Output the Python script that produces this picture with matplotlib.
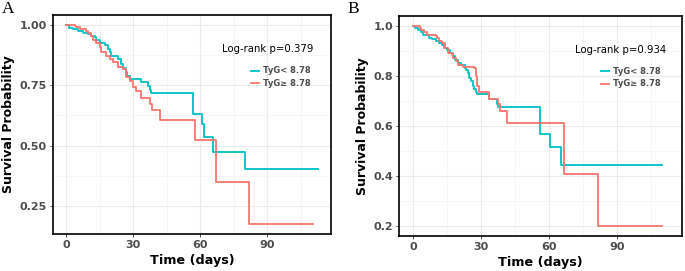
import matplotlib
matplotlib.use("Agg")
import matplotlib.pyplot as plt
from matplotlib.ticker import MultipleLocator

# ---------------- data ----------------
a_low_t = [0, 1.2, 3, 5.2, 7.5, 9.7, 11.2, 12.7, 13.4, 14.9, 17.2, 18.6, 19.4, 20.1, 23.1, 24.6, 25.4,
           26.5, 27.3, 28.3, 33.6, 36.5, 37.3, 38, 56.7, 60.8, 61.7, 65.6, 79.8, 112.9]
a_low_s = [1.0, 0.989, 0.982, 0.975, 0.968, 0.962, 0.955, 0.948, 0.937, 0.927, 0.916, 0.90, 0.886, 0.872,
           0.859, 0.838, 0.821, 0.804, 0.79, 0.776, 0.765, 0.749, 0.731, 0.717, 0.632, 0.588, 0.536, 0.474,
           0.405, 0.405]
a_high_t = [0, 3.7, 4.5, 6, 8.9, 9.7, 11.2, 11.9, 13.4, 14.9, 15.7, 17.9, 19.4, 20.9, 23.1, 25.4, 26.8,
            28.3, 29.8, 31.3, 33.5, 37.6, 38.5, 41.8, 57.4, 66.8, 81.7, 110.6]
a_high_s = [1.0, 0.996, 0.992, 0.982, 0.975, 0.968, 0.955, 0.937, 0.927, 0.909, 0.886, 0.872, 0.859, 0.845,
            0.824, 0.817, 0.783, 0.769, 0.742, 0.728, 0.698, 0.673, 0.646, 0.608, 0.522, 0.349, 0.174, 0.174]

b_low_t = [0, 1.1, 2.1, 3.6, 4.3, 7.1, 8.5, 10, 11.4, 12.8, 13.5, 14.9, 16.4, 17.8, 18.5, 19.9, 21.3, 22.8,
           23.5, 24.2, 24.9, 25.6, 26.3, 27, 27.7, 28.4, 33.4, 37, 37.7, 56.2, 60.3, 65.4, 109.8]
b_low_s = [1.0, 0.990, 0.983, 0.974, 0.963, 0.953, 0.948, 0.940, 0.930, 0.924, 0.913, 0.904, 0.891, 0.878,
           0.865, 0.852, 0.843, 0.832, 0.822, 0.812, 0.793, 0.780, 0.760, 0.747, 0.734, 0.727, 0.707, 0.688,
           0.675, 0.570, 0.517, 0.444, 0.444]
b_high_t = [0, 3.1, 3.6, 5, 6.4, 10, 10.7, 11.7, 12.8, 14.2, 15.6, 17.1, 17.8, 19.2, 19.9, 22, 27, 27.7,
            28.3, 29.2, 33.4, 37.7, 38.4, 41.3, 66.4, 81.4, 109.8]
b_high_s = [1.0, 0.992, 0.983, 0.974, 0.963, 0.961, 0.950, 0.940, 0.930, 0.911, 0.891, 0.882, 0.871, 0.858,
            0.845, 0.835, 0.832, 0.80, 0.76, 0.734, 0.707, 0.688, 0.662, 0.613, 0.408, 0.203, 0.203]

legend_labels = ["TyG< 8.78", "TyG\u2265 8.78"]
pvalues = ["Log-rank p=0.379", "Log-rank p=0.934"]
panel_letters = ["A", "B"]
x_ticks = [0, 30, 60, 90]
a_yticks = [0.25, 0.50, 0.75, 1.00]
b_yticks = [0.2, 0.4, 0.6, 0.8, 1.0]

TEAL = "#00BFC4"
RED = "#F8766D"

fig = plt.figure(figsize=(6.85, 2.71), dpi=100)
fig.patch.set_facecolor("white")

axA = fig.add_axes([53/685, 1-234/271, 278/685, 219/271])
axB = fig.add_axes([399.3/685, 1-235.7/271, 282.4/685, 220/271])

panels = [
    (axA, a_low_t, a_low_s, a_high_t, a_high_s, a_yticks, "{:.2f}", (0.134, 1.041), 0,
     (0.935, 0.845), (0.712, 0.765)),
    (axB, b_low_t, b_low_s, b_high_t, b_high_s, b_yticks, "{:.1f}", (0.163, 1.04), 1,
     (0.944, 0.844), (0.714, 0.768)),
]

for ax, lt, ls, ht, hs, yt, fmt, ylim, i, ppos, lpos in panels:
    ax.set_facecolor("white")
    l1, = ax.step(lt, ls, where="post", color=TEAL, lw=1.3, zorder=3)
    l2, = ax.step(ht, hs, where="post", color=RED, lw=1.3, zorder=3)
    ax.set_xlim(-6.0, 118.5)
    ax.set_ylim(*ylim)
    ax.set_xticks(x_ticks)
    ax.set_yticks(yt)
    ax.set_yticklabels([fmt.format(v) for v in yt])
    ax.xaxis.set_minor_locator(MultipleLocator(15))
    step = yt[1] - yt[0]
    ax.yaxis.set_minor_locator(MultipleLocator(step / 2))
    ax.grid(True, which="major", color="#EBEBEB", lw=0.8, zorder=0)
    ax.grid(True, which="minor", color="#F3F3F3", lw=0.5, zorder=0)
    ax.tick_params(which="minor", length=0)
    ax.tick_params(which="major", length=2.5, width=0.6, color="#333333",
                   labelsize=8, labelcolor="#4D4D4D", pad=2)
    for lab in ax.get_xticklabels() + ax.get_yticklabels():
        lab.set_fontweight("bold")
    for sp in ax.spines.values():
        sp.set_color("black")
        sp.set_linewidth(1.2)
    ax.set_xlabel("Time (days)", fontsize=9.2, fontweight="bold", labelpad=3)
    ax.set_ylabel("Survival Probability", fontsize=9, fontweight="bold", labelpad=3)
    ax.text(ppos[0], ppos[1], pvalues[i], transform=ax.transAxes, ha="right", va="center",
            fontsize=7.3, color="black")
    leg = ax.legend([l1, l2], legend_labels, loc="upper left", bbox_to_anchor=lpos,
                    frameon=False, fontsize=6, handlelength=0.95, handletextpad=0.45,
                    labelspacing=0.45, borderpad=0, borderaxespad=0)
    for t in leg.get_texts():
        t.set_fontweight("bold")
        t.set_color("#4D4D4D")

fig.text(2/685, 1-1/271, "A", fontsize=12.5, family="Liberation Serif", va="top", ha="left")
fig.text(347/685, 1-1/271, "B", fontsize=12.5, family="Liberation Serif", va="top", ha="left")

fig.savefig("out.png", dpi=100, facecolor="white")
